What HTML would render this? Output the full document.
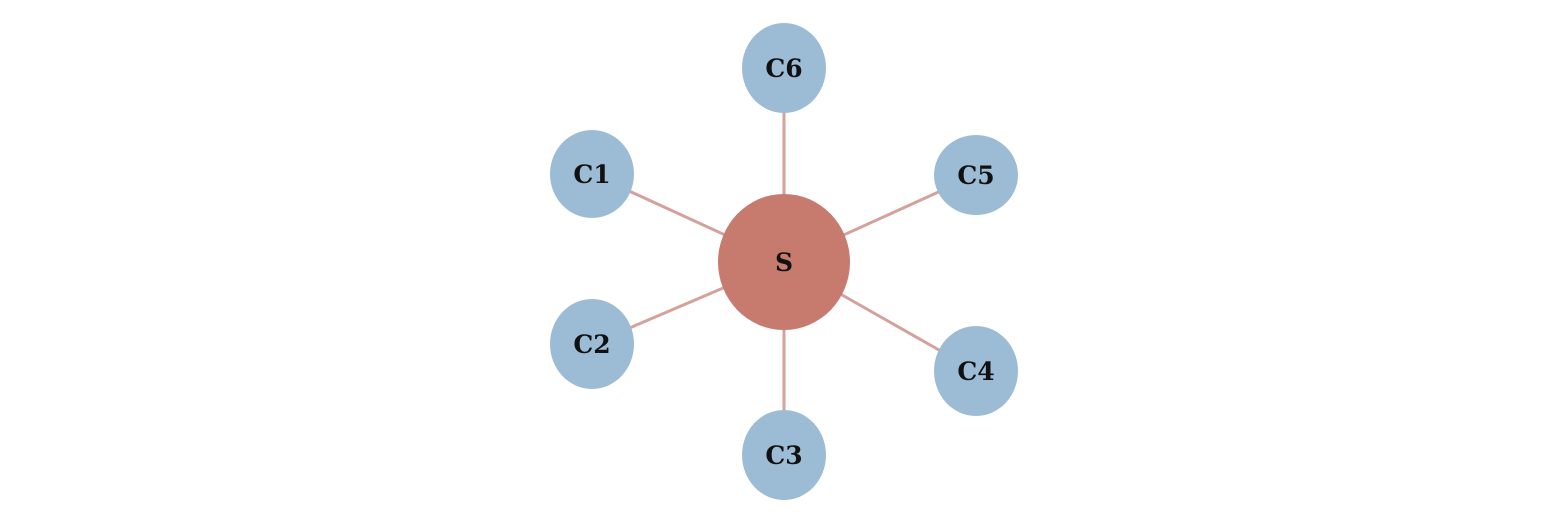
<!DOCTYPE html>
<html>
<head>
<meta charset="utf-8">
<style>
html,body{margin:0;padding:0;background:#fff;}
svg{display:block;}
text{font-family:"DejaVu Serif","Liberation Serif",serif;font-weight:bold;font-size:25px;fill:#111;}
</style>
</head>
<body>
<svg id="chart" width="1560" height="524" viewBox="0 0 1560 524" xmlns="http://www.w3.org/2000/svg">
<g id="edges"></g>
<g id="nodes"></g>
</svg>
<script>
const nodeIds = ["S","C1","C2","C3","C4","C5","C6"];
const nodeX = [784,592,592,784,976,976,784];
const nodeY = [262,174,344,455,371,175,68];
const nodeRx = [66,42,42,42,42,42,42];
const nodeRy = [68,44,45,45,45,40,45];
const edgeSource = ["S","S","S","S","S","S"];
const edgeTarget = ["C1","C2","C3","C4","C5","C6"];

const NS="http://www.w3.org/2000/svg";
const eg=document.getElementById('edges'), ng=document.getElementById('nodes');
function idx(id){return nodeIds.indexOf(id);}
for(let i=0;i<edgeSource.length;i++){
  const a=idx(edgeSource[i]), b=idx(edgeTarget[i]);
  const l=document.createElementNS(NS,'line');
  l.setAttribute('x1',nodeX[a]);l.setAttribute('y1',nodeY[a]);
  l.setAttribute('x2',nodeX[b]);l.setAttribute('y2',nodeY[b]);
  l.setAttribute('stroke','#d4a29b');l.setAttribute('stroke-width','3');
  
  
  eg.appendChild(l);
}
for(let i=0;i<nodeIds.length;i++){
  const g=document.createElementNS(NS,'g');
  
  
  const e=document.createElementNS(NS,'ellipse');
  e.setAttribute('cx',nodeX[i]);e.setAttribute('cy',nodeY[i]);
  e.setAttribute('rx',nodeRx[i]);e.setAttribute('ry',nodeRy[i]);
  e.setAttribute('fill', i===0?'#c77b6e':'#9bbcd4');
  
  
  const t=document.createElementNS(NS,'text');
  t.setAttribute('x',nodeX[i]);t.setAttribute('y',nodeY[i]+9);
  t.setAttribute('text-anchor','middle');
  t.textContent=nodeIds[i];
  
  
  g.appendChild(e);g.appendChild(t);ng.appendChild(g);
}
</script>
</body>
</html>
